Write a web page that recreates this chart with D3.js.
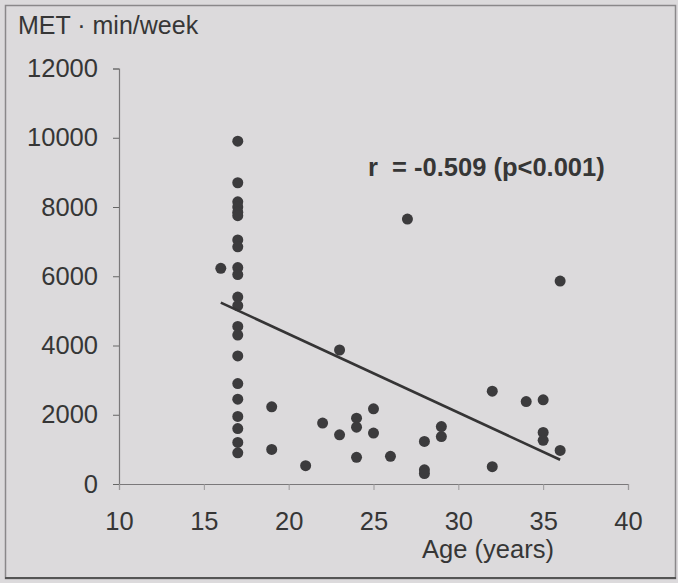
<!DOCTYPE html>
<html>
<head>
<meta charset="utf-8">
<script src="https://cdn.jsdelivr.net/npm/d3@7"></script>
<style>
  html, body { margin: 0; padding: 0; background: #dcdadc; }
  svg { display: block; }
  text { font-family: "Liberation Sans", Arial, sans-serif; fill: #363636; }
</style>
</head>
<body>
<svg id="chart" width="678" height="583"></svg>
<script>
// Age (years) of each participant and weekly activity (MET·min/week)
const ages = [
  17, 17, 17, 17, 17, 17, 17, 17, 17, 17,
  17, 17, 17, 17, 17, 17, 17, 17, 17, 17,
  17, 16, 19, 19, 21, 22, 23, 23, 24, 24,
  24, 25, 25, 26, 27, 28, 28, 28, 29, 29,
  32, 32, 34, 35, 35, 35, 36, 36
];
const met = [
  9900, 8700, 8150, 8000, 7850, 7750, 7050, 6850, 6250, 6050,
  5400, 5150, 4550, 4300, 3700, 2900, 2450, 1950, 1600, 1200,
  900, 6230, 2230, 1000, 530, 1760, 1420, 3870, 1900, 1640,
  770, 2170, 1470, 800, 7650, 1230, 410, 300, 1660, 1370,
  2680, 500, 2380, 2430, 1490, 1260, 5860, 970
];

// Fitted regression line end points
const fitAge = [16, 36];
const fitMet = [5240, 700];

const xTicks = [10, 15, 20, 25, 30, 35, 40];
const yTicks = [0, 2000, 4000, 6000, 8000, 10000, 12000];

const yTitle = "MET · min/week";
const xTitle = "Age (years)";
const statText = "r  = -0.509 (p<0.001)";

const svg = d3.select("#chart");
const W = 678, H = 583;

// frame around the figure
svg.append("rect")
  .attr("x", 5.5).attr("y", 5.5)
  .attr("width", W - 8).attr("height", H - 10)
  .attr("fill", "#dcdadc")
  .attr("stroke", "#8a888a").attr("stroke-width", 1.5);
svg.append("line")
  .attr("x1", 5).attr("x2", W - 2)
  .attr("y1", 578).attr("y2", 578)
  .attr("stroke", "#555").attr("stroke-width", 2);

const x = d3.scaleLinear().domain([10, 40]).range([119, 628]);
const y = d3.scaleLinear().domain([0, 12000]).range([484, 68.5]);

// y axis
const gy = svg.append("g")
  .attr("transform", `translate(${x(10)},0)`)
  .call(d3.axisLeft(y).tickValues(yTicks).tickSize(6).tickPadding(15)
    .tickFormat(d3.format("d")));
gy.select(".domain").attr("stroke", "#7a787a").attr("stroke-width", 1.2);
gy.selectAll(".tick line").attr("stroke", "#666");
gy.selectAll(".tick text").style("font-size", "25.5px").attr("fill", "#3a3a3a");

// x axis
const gx = svg.append("g")
  .attr("transform", `translate(0,${y(0)})`)
  .call(d3.axisBottom(x).tickValues(xTicks).tickSize(6).tickPadding(22));
gx.select(".domain").attr("stroke", "#7a787a").attr("stroke-width", 1.2);
gx.selectAll(".tick line").attr("stroke", "#9a989a");
gx.selectAll(".tick text").style("font-size", "25.5px").attr("fill", "#3a3a3a");

// scatter points
svg.append("g")
  .selectAll("circle")
  .data(ages.map((a, i) => ({ age: a, met: met[i] })))
  .join("circle")
  .attr("cx", d => x(d.age))
  .attr("cy", d => y(d.met))
  .attr("r", 5.5)
  .attr("fill", "#3c3b3d");

// regression line
svg.append("path")
  .datum(fitAge.map((a, i) => [a, fitMet[i]]))
  .attr("d", d3.line().x(d => x(d[0])).y(d => y(d[1])))
  .attr("stroke", "#353435")
  .attr("stroke-width", 2.6)
  .attr("fill", "none");

// titles
svg.append("text")
  .attr("x", 18).attr("y", 34)
  .style("font-size", "25px")
  .text(yTitle);

svg.append("text")
  .attr("x", 488).attr("y", 558)
  .attr("text-anchor", "middle")
  .style("font-size", "25.5px")
  .text(xTitle);

svg.append("text")
  .attr("x", 368).attr("y", 176)
  .style("font-size", "25.5px")
  .style("font-weight", "bold")
  .style("white-space", "pre")
  .attr("xml:space", "preserve")
  .text(statText);
</script>
</body>
</html>
